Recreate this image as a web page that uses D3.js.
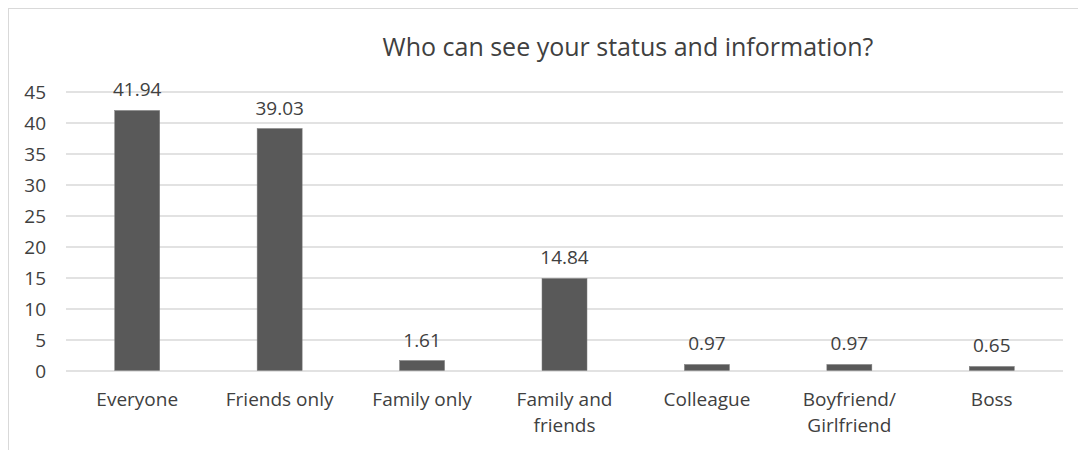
<!doctype html>
<html lang="en">
<head>
	<meta charset="utf-8">
	<title>Who can see your status and information?</title>
	<script src="https://cdn.jsdelivr.net/npm/d3@7"></script>
	<style>
		body { margin: 0; background: #fff; }
		text { font-family: "Open Sans", sans-serif; }
	</style>
</head>
<body>
	<svg id="chart" width="1078" height="450"></svg>
	<script>
		var categories = ["Everyone", "Friends only", "Family only", "Family and friends", "Colleague", "Boyfriend/ Girlfriend", "Boss"];
		var values = [41.94, 39.03, 1.61, 14.84, 0.97, 0.97, 0.65];
		var yTicks = [0, 5, 10, 15, 20, 25, 30, 35, 40, 45];
		var title = "Who can see your status and information?";

		var svg = d3.select("#chart");
		var plotLeft = 66, plotRight = 1063, plotTop = 91.5, plotBottom = 370.5;

		// chart frame
		svg.append("rect")
			.attr("x", 8.5).attr("y", 8.5)
			.attr("width", 1100).attr("height", 500)
			.attr("fill", "none").attr("stroke", "#d9d9d9");

		var xScale = d3.scaleBand().domain(categories).range([plotLeft, plotRight]).paddingInner(0.684).paddingOuter(0.342);
		var yScale = d3.scaleLinear().domain([0, 45]).range([plotBottom, plotTop]);

		//gridlines
		var yAxis = d3.axisLeft(yScale).tickValues(yTicks).tickSize(-(plotRight - plotLeft)).tickPadding(20);
		var yG = svg.append("g").attr("transform", "translate(" + plotLeft + ",0)").call(yAxis);
		yG.select(".domain").remove();
		yG.selectAll(".tick line").attr("stroke", "#d9d9d9").attr("stroke-width", 1.3);
		yG.selectAll(".tick text").attr("fill", "#404040").style("font-size", "19px").style("font-family", "Open Sans").attr("dy", "0.35em");

		svg.selectAll("rect.bar")
			.data(values)
			.enter().append("rect")
			.attr("class", "bar")
			.attr("x", function(d, i) { return xScale(categories[i]); })
			.attr("width", xScale.bandwidth())
			.attr("y", function(d) { return yScale(d); })
			.attr("height", function(d) { return yScale(0) - yScale(d); })
			.attr("fill", "#595959")
			.attr("stroke", "#7f7f7f").attr("stroke-width", 0.5);

		svg.selectAll("text.val")
			.data(values)
			.enter().append("text")
			.attr("class", "val")
			.attr("x", function(d, i) { return xScale(categories[i]) + xScale.bandwidth() / 2; })
			.attr("y", function(d) { return yScale(d) - 14; })
			.attr("text-anchor", "middle")
			.attr("fill", "#404040")
			.style("font-size", "19px")
			.text(function(d) { return d.toFixed(2); });

		// category labels, wrapped onto two lines where needed
		var lines = [["Everyone"], ["Friends only"], ["Family only"], ["Family and", "friends"], ["Colleague"], ["Boyfriend/", "Girlfriend"], ["Boss"]];
		categories.forEach(function(c, i) {
			var t = svg.append("text")
				.attr("x", xScale(c) + xScale.bandwidth() / 2)
				.attr("y", 406)
				.attr("text-anchor", "middle")
				.attr("fill", "#404040")
				.style("font-size", "19px");
			lines[i].forEach(function(l, j) {
				t.append("tspan").attr("x", xScale(c) + xScale.bandwidth() / 2).attr("dy", j == 0 ? 0 : 26).text(l);
			});
		});

		svg.append("text")
			.attr("x", 628).attr("y", 56)
			.attr("text-anchor", "middle")
			.attr("fill", "#404040")
			.style("font-size", "25px")
			.text(title);
	</script>
</body>
</html>
